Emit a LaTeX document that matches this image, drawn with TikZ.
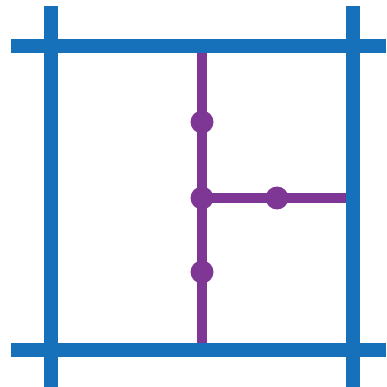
\documentclass[tikz,border=0pt]{standalone}
\definecolor{gridblue}{RGB}{22,112,186}
\definecolor{wirepurple}{RGB}{126,55,148}
\tikzset{
  gridline/.style={draw=gridblue, line width=14pt},
  wire/.style={draw=wirepurple, line width=10pt},
  dot/.style={circle, fill=wirepurple, inner sep=0pt, minimum size=23pt}
}
\begin{document}
\begin{tikzpicture}[x=1pt,y=-1pt]
\useasboundingbox (0,0) rectangle (386,387);
% grid end points
\coordinate (hTl) at (11,46.5);
\coordinate (hTr) at (386,46.5);
\coordinate (hBl) at (11,350);
\coordinate (hBr) at (386,350);
\coordinate (vLt) at (51,6);
\coordinate (vLb) at (51,387);
\coordinate (vRt) at (353,6);
\coordinate (vRb) at (353,387);
\draw[gridline] (hTl) -- (hTr);
\draw[gridline] (hBl) -- (hBr);
\draw[gridline] (vLt) -- (vLb);
\draw[gridline] (vRt) -- (vRb);
% purple wires
\coordinate (pTop) at (202,53);
\coordinate (pBot) at (202,343);
\coordinate (pEnd) at (346,198);
\draw[wire] (pTop) -- (pBot);
\node[dot] (d1) at (202,122) {};
\node[dot] (d2) at (202,198) {};
\node[dot] (d3) at (202,272) {};
\node[dot] (d4) at (277,198) {};
\draw[wire] (d2.center) -- (pEnd);
\end{tikzpicture}
\end{document}
